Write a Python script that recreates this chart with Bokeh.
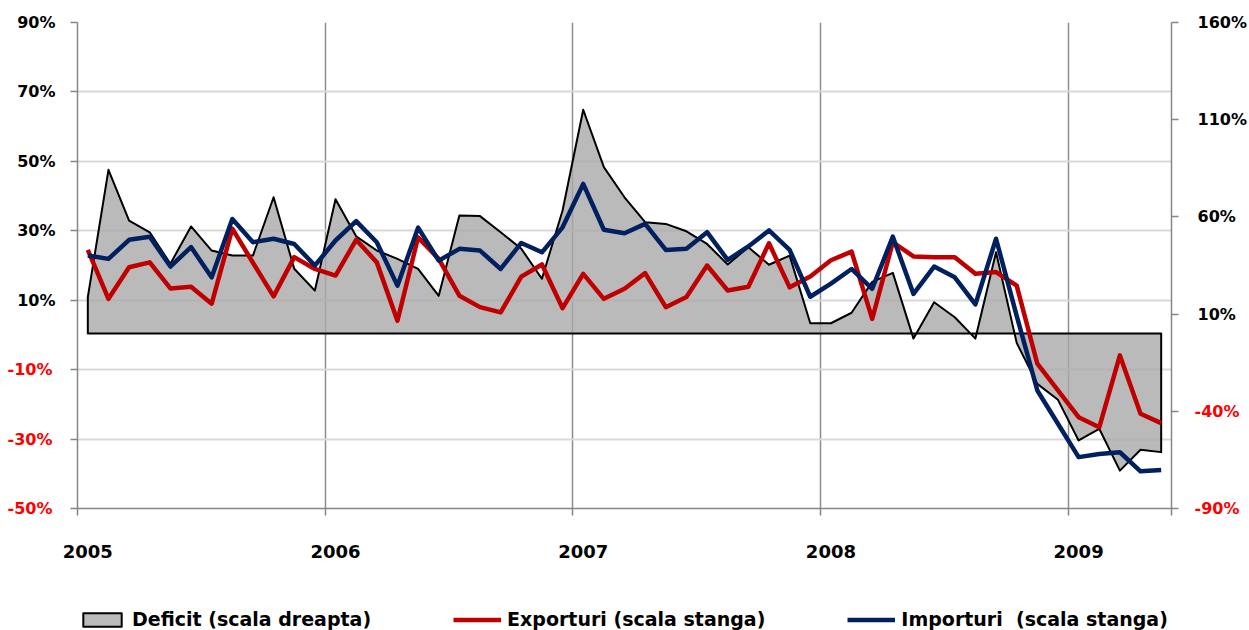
from bokeh.plotting import figure
from bokeh.layouts import column
from bokeh.models import Range1d, LinearAxis, FixedTicker, Legend, LegendItem
from bokeh.embed import file_html
from bokeh.resources import INLINE

# ---------------- data ----------------
years = ["2005", "2006", "2007", "2008", "2009"]
months = [f"{y}-{m:02d}" for y in years for m in range(1, 13)][:53]

exports = [24.5, 10.4, 19.5, 20.9, 13.4, 13.9, 9.0, 30.6, 20.8, 11.1, 22.4, 19.0,
           17.1, 27.4, 20.9, 4.1, 28.1, 21.9, 11.3, 8.0, 6.5, 16.8, 20.3, 7.7,
           17.6, 10.4, 13.3, 17.8, 8.0, 10.9, 20.0, 12.8, 13.9, 26.4, 13.7, 16.8,
           21.5, 24.0, 4.6, 26.7, 22.6, 22.4, 22.4, 17.6, 18.1, 14.2, -8.3, -16.0,
           -23.7, -26.6, -5.9, -22.7, -25.4]

imports = [22.9, 21.9, 27.4, 28.3, 19.7, 25.3, 16.6, 33.4, 26.7, 27.7, 26.2, 20.0,
           27.2, 32.8, 26.7, 14.2, 30.9, 21.4, 24.8, 24.3, 19.0, 26.5, 23.8, 31.0,
           43.5, 30.3, 29.3, 32.0, 24.5, 24.8, 29.6, 21.6, 25.5, 30.1, 24.5, 11.0,
           14.8, 19.0, 13.3, 28.3, 11.8, 19.7, 16.6, 8.8, 27.7, 5.5, -16.0, -25.6,
           -35.2, -34.3, -33.8, -39.3, -38.9]

deficit = [18.7, 84.2, 58.1, 52.1, 35.9, 55.1, 42.7, 40.1, 40.1, 70.1, 33.3, 22.1,
           69.1, 50.0, 42.7, 38.4, 33.3, 19.4, 60.7, 60.4, 52.1, 43.6, 28.2, 63.3,
           115.1, 85.6, 70.1, 57.3, 56.4, 52.6, 46.1, 35.5, 44.4, 35.4, 40.1, 5.3,
           5.3, 10.7, 26.6, 31.2, -2.6, 16.1, 8.4, -2.6, 41.8, -4.8, -25.9, -34.1,
           -55.0, -49.0, -70.5, -59.8, -61.0]

left_ticks = [-50, -30, -10, 10, 30, 50, 70, 90]
right_ticks = [-90, -40, 10, 60, 110, 160]

labels = {
    "deficit": "Deficit (scala dreapta)",
    "exports": "Exporturi (scala stanga)",
    "imports": "Importuri  (scala stanga)",
}

# ---------------- styling ----------------
FONT = "DejaVu Sans"
GRAY_AXIS = "#868686"
RED_LABEL = "#FF0000"
AREA_FILL = "#A9A9A9"
RED = "#C00000"
NAVY = "#002060"

W = 1249
BORDER_L, BORDER_R, BORDER_T = 77, 77, 22
H_MAIN = 590
FRAME_BOTTOM = 508

x = list(range(len(months)))
year_idx = [i for i, m in enumerate(months) if m.endswith("-01")]
boundaries = [i - 0.5 for i in year_idx] + [len(months) - 0.5]
x_lo, x_hi = -0.5, len(months) - 0.5

p = figure(width=W, height=H_MAIN, output_backend="svg", toolbar_location=None,
           x_range=Range1d(x_lo, x_hi),
           y_range=Range1d(left_ticks[0], left_ticks[-1]),
           min_border_left=BORDER_L, min_border_right=BORDER_R,
           min_border_top=BORDER_T, min_border_bottom=H_MAIN - FRAME_BOTTOM)
p.extra_y_ranges = {"right": Range1d(right_ticks[0], right_ticks[-1])}
p.outline_line_color = None
p.background_fill_color = "white"
p.border_fill_color = "white"


def draw_series(fig, y_right_name):
    a = fig.patch([x[0]] + x + [x[-1]], [0] + deficit + [0], y_range_name=y_right_name,
                  fill_color=AREA_FILL, fill_alpha=0.8,
                  line_color="black", line_width=2, line_join="round")
    r = fig.line(x, exports, line_color=RED, line_width=4.5, line_join="round")
    b = fig.line(x, imports, line_color=NAVY, line_width=4.5, line_join="round")
    return a, r, b


area, red, blue = draw_series(p, "right")


def style_axis(ax, color, tick_out, standoff, size="16px", rule=True, ticks=True):
    ax.major_label_text_font = FONT
    ax.major_label_text_font_style = "bold"
    ax.major_label_text_font_size = size
    ax.major_label_text_color = color
    ax.major_tick_out = tick_out
    ax.major_tick_in = 0
    ax.minor_tick_line_color = None
    ax.major_tick_line_color = GRAY_AXIS if ticks else None
    ax.major_tick_line_width = 1.5
    ax.axis_line_color = GRAY_AXIS if rule else None
    ax.axis_line_width = 1.5
    ax.major_label_standoff = standoff


# x axis
xaxis = p.xaxis[0]
xaxis.ticker = FixedTicker(ticks=year_idx, minor_ticks=boundaries)
xaxis.major_label_overrides = {i: months[i][:4] for i in year_idx}
style_axis(xaxis, "black", 0, 29, size="18px", ticks=False)
xaxis.minor_tick_out = 7
xaxis.minor_tick_in = 0
xaxis.minor_tick_line_color = GRAY_AXIS
xaxis.minor_tick_line_width = 1.5

# Left side: inner axis = ticks + black positive labels,
# outer axis = red negative labels pulled back to the same column.
yaxis = p.yaxis[0]
yaxis.ticker = FixedTicker(ticks=left_ticks)
yaxis.major_label_overrides = {v: (f"{v}%" if v >= 0 else "") for v in left_ticks}
style_axis(yaxis, "black", 7, 15)
INNER_L = 60  # approx. size of the inner left axis (tick + standoff + label)

yneg = LinearAxis(ticker=FixedTicker(ticks=left_ticks))
yneg.major_label_overrides = {v: (f"{v}%" if v < 0 else "") for v in left_ticks}
style_axis(yneg, RED_LABEL, 0, 22 - INNER_L, rule=False, ticks=False)
p.add_layout(yneg, "left")

# Right side: inner axis = ticks + red negative labels,
# outer axis = black positive labels pulled back to the same column.
rneg = LinearAxis(y_range_name="right", ticker=FixedTicker(ticks=right_ticks))
rneg.major_label_overrides = {v: (f"{v}%" if v < 0 else "") for v in right_ticks}
style_axis(rneg, RED_LABEL, 7, 16)
p.add_layout(rneg, "right")
INNER_R = 68  # approx. size of the inner right axis

rpos = LinearAxis(y_range_name="right", ticker=FixedTicker(ticks=right_ticks))
rpos.major_label_overrides = {v: (f"{v}%" if v >= 0 else "") for v in right_ticks}
style_axis(rpos, "black", 0, 23 - INNER_R, rule=False, ticks=False)
p.add_layout(rpos, "right")

# Grids
p.ygrid.ticker = FixedTicker(ticks=left_ticks)
p.ygrid.grid_line_color = "#D9D9D9"
p.ygrid.grid_line_width = 2
p.xgrid.ticker = FixedTicker(ticks=boundaries[1:-1])
p.xgrid.grid_line_color = "#8C8C8C"
p.xgrid.grid_line_width = 1.5

# ---------------- legend strip ----------------
H_LEG = 630 - H_MAIN
pl = figure(width=W, height=H_LEG, output_backend="svg", toolbar_location=None,
            x_range=Range1d(x_lo, x_hi), y_range=Range1d(1000, 1001),
            x_axis_location=None, y_axis_location=None, min_border=0)
pl.extra_y_ranges = {"right": Range1d(1000, 1001)}
pl.outline_line_color = None
pl.background_fill_color = "white"
pl.border_fill_color = "white"
pl.grid.visible = False
l_area, l_red, l_blue = draw_series(pl, "right")  # out of view; only for legend glyphs

legend = Legend(items=[LegendItem(label=labels["deficit"], renderers=[l_area]),
                       LegendItem(label=labels["exports"], renderers=[l_red]),
                       LegendItem(label=labels["imports"], renderers=[l_blue])],
                location=(1, 0), orientation="horizontal",
                glyph_width=48, glyph_height=17, label_standoff=6, spacing=82,
                padding=0, margin=0, border_line_color=None, background_fill_alpha=0,
                label_text_font=FONT, label_text_font_style="bold",
                label_text_font_size="19px", label_text_color="black")
pl.add_layout(legend, "center")

open("out.html", "w").write(file_html(column(p, pl), INLINE))
